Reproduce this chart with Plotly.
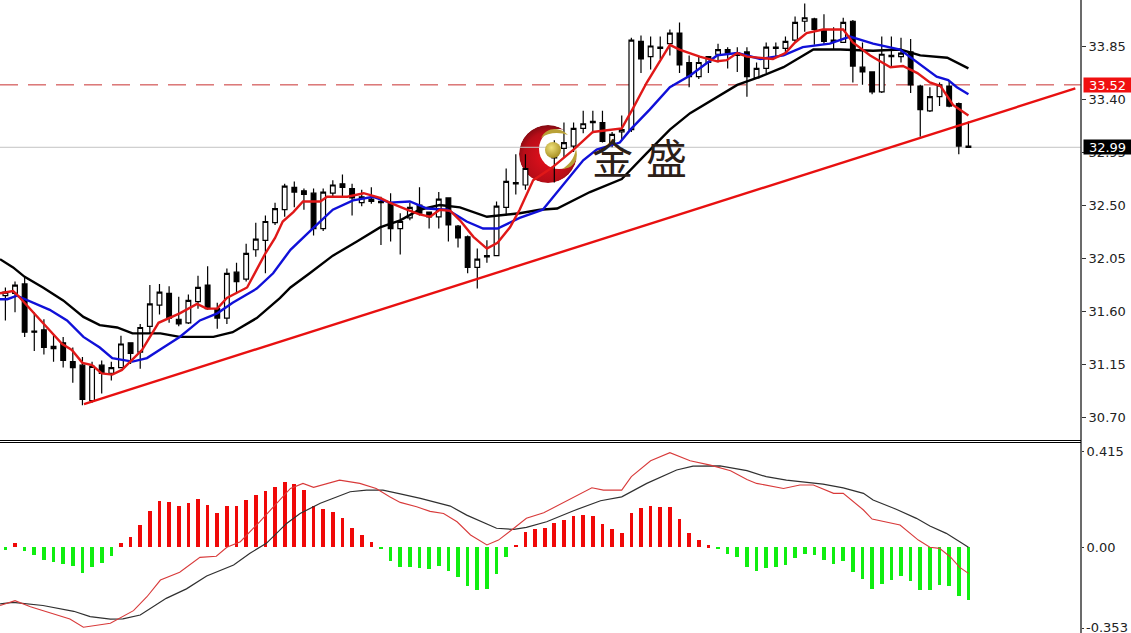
import base64
import plotly.graph_objects as go

# ---------- price panel data ----------
# Candles 55 and 56 are hidden behind the logo in the reference, so they stay empty.
opens = [31.73,31.75,31.83,31.43,31.44,31.28,31.33,31.17,31.14,30.84,31.14,31.07,31.12,31.33,31.25,31.47,31.65,31.75,31.53,31.50,
         31.68,31.82,31.62,31.54,31.93,31.87,32.12,32.20,32.35,32.46,32.65,32.62,32.60,32.30,32.60,32.68,32.64,32.52,32.55,32.53,
         32.52,32.30,32.39,32.50,32.44,32.40,32.56,32.32,32.23,31.97,32.06,32.07,32.48,32.68,32.67,None,None,32.92,32.98,33.00,
         33.15,33.20,33.20,33.03,33.12,33.14,33.89,33.76,33.83,33.87,33.96,33.71,33.59,33.71,33.78,33.82,33.79,33.80,33.58,33.66,
         33.83,33.83,33.90,34.06,34.08,33.99,33.89,33.88,34.06,33.67,33.63,33.46,33.76,33.76,33.80,33.51,33.30,33.42,33.51,33.36,33.00]
highs = [31.80,31.85,31.89,31.59,31.53,31.40,31.38,31.29,31.21,31.17,31.18,31.17,31.39,31.33,31.49,31.82,31.83,31.81,31.72,31.74,
         31.90,31.98,31.67,31.96,32.01,32.17,32.35,32.41,32.52,32.68,32.70,32.64,32.64,32.64,32.71,32.76,32.68,32.63,32.65,32.57,
         32.60,32.43,32.52,32.65,32.44,32.61,32.56,32.33,32.24,32.13,32.20,32.53,32.81,32.93,32.93,None,None,33.05,33.20,33.20,
         33.30,33.30,33.30,33.12,33.26,33.92,33.94,33.93,33.93,33.99,34.05,33.77,33.76,33.76,33.87,33.84,33.84,33.84,33.71,33.88,
         33.88,33.93,34.10,34.21,34.09,34.12,34.01,34.09,34.07,33.88,33.63,33.93,33.93,33.92,33.91,33.52,33.50,33.54,33.56,33.37,33.21]
lows = [31.52,31.59,31.38,31.26,31.23,31.17,31.12,30.99,30.80,30.82,30.90,31.01,31.12,31.15,31.11,31.41,31.57,31.50,31.47,31.49,
        31.62,31.61,31.45,31.49,31.75,31.85,32.06,31.92,32.33,32.40,32.48,32.46,32.24,32.28,32.56,32.57,32.41,32.49,32.51,32.16,
        32.19,32.08,32.37,32.41,32.30,32.30,32.19,32.14,31.92,31.79,32.01,32.07,32.41,32.59,32.63,None,None,32.69,32.90,32.95,
        33.11,33.11,33.03,32.99,33.05,33.12,33.62,33.65,33.74,33.77,33.62,33.50,33.57,33.62,33.71,33.66,33.63,33.42,33.58,33.62,
        33.75,33.79,33.88,33.97,33.86,33.86,33.82,33.88,33.54,33.52,33.44,33.45,33.67,33.71,33.45,33.08,33.29,33.34,33.33,32.93,32.99]
closes = [31.76,31.82,31.42,31.42,31.29,31.30,31.18,31.12,30.85,31.13,31.07,31.12,31.32,31.24,31.46,31.66,31.76,31.54,31.49,31.69,
          31.80,31.62,31.54,31.92,31.85,32.09,32.21,32.36,32.47,32.66,32.61,32.59,32.30,32.61,32.67,32.65,32.56,32.57,32.53,32.52,
          32.30,32.36,32.48,32.43,32.40,32.55,32.33,32.22,31.97,32.04,32.07,32.49,32.70,32.69,32.81,None,None,32.90,33.03,33.15,
          33.19,33.21,33.04,33.10,33.14,33.90,33.74,33.85,33.84,33.96,33.69,33.59,33.71,33.76,33.82,33.79,33.77,33.59,33.66,33.84,
          33.84,33.89,34.05,34.09,33.99,33.89,33.90,34.05,33.68,33.63,33.46,33.78,33.77,33.79,33.52,33.31,33.42,33.52,33.34,33.00,32.99]
candle_index = list(range(len(opens)))

ma_red_x = [-.56,.8,1.2,2.9,4.6,5.9,6.9,8,9,10,11.1,12.1,13.1,14.2,15.9,18.1,19.9,20.9,22,23,25.1,27,28,28.8,29.9,30.9,32.7,33.4,35.5,37.2,
            38.9,39.9,41.7,43,44.1,45.1,46.2,47.2,48.6,50,51.1,52.4,53.4,54.8,56.8,59,61,64,65.1,66.6,69,70,72.1,73.9,74.9,76,77,78.1,79.7,81,
            82,83.2,84.9,87,88,89.8,91.9,93.2,94.7,96,97.1,98.4,100]
ma_red_y = [31.75,31.77,31.74,31.59,31.44,31.32,31.27,31.16,31.14,31.07,31.06,31.10,31.18,31.27,31.50,31.58,31.66,31.62,31.62,31.71,31.80,32.09,32.22,32.36,32.44,32.53,32.53,32.57,32.57,32.60,
            32.56,32.52,32.46,32.42,32.40,32.46,32.45,32.37,32.23,32.13,32.18,32.31,32.46,32.71,32.82,32.97,33.12,33.15,33.31,33.54,33.86,33.82,33.76,33.72,33.73,33.79,33.76,33.75,33.74,33.79,
            33.88,33.96,33.99,33.99,33.88,33.77,33.67,33.68,33.62,33.54,33.51,33.35,33.26]
ma_blue_x = [-.56,.2,1.2,2.9,4.6,6.4,8.1,9.8,11.1,13.2,14.7,16.4,18.1,20.2,22,23.6,26.1,27.8,29.6,31.9,34,36.1,38.2,39.9,42,43.8,45.9,47.9,49.6,51.1,
             53.4,55.8,60,61.4,63.8,64.9,66.9,69,71.1,73.9,76,78.4,80.8,82.8,85.6,87.7,90.1,92.9,94.7,96.7,97.9,98.8,100]
ma_blue_y = [31.70,31.70,31.73,31.67,31.61,31.52,31.38,31.29,31.20,31.17,31.20,31.29,31.38,31.52,31.58,31.67,31.79,31.92,32.12,32.30,32.46,32.54,32.57,32.52,32.53,32.47,32.46,32.36,32.30,32.30,
             32.39,32.46,32.88,32.97,33.03,33.14,33.31,33.50,33.60,33.77,33.79,33.74,33.77,33.84,33.87,33.93,33.87,33.82,33.71,33.59,33.56,33.50,33.44]
ma_black_x = [-.56,.8,2,3.9,6,8.1,9.8,11.6,13.2,16.1,18.1,21.6,23.6,26.1,28.5,29.6,31.6,34,36.5,38.9,41,43,45.1,47.2,50,52.1,53.4,55.5,57.3,60.7,
              64,66.6,69,71.1,73.9,76,78.4,80.8,83.9,86.7,90.1,92.9,95,97.8,100]
ma_black_y = [32.04,31.97,31.89,31.80,31.69,31.55,31.48,31.46,31.41,31.41,31.38,31.38,31.42,31.54,31.71,31.80,31.92,32.07,32.19,32.31,32.37,32.46,32.50,32.48,32.40,32.42,32.43,32.46,32.47,32.61,
              32.72,32.94,33.14,33.28,33.42,33.52,33.59,33.67,33.82,33.82,33.81,33.82,33.77,33.75,33.66]
trend_x = [8.16, 111.1]
trend_y = [30.81, 33.49]
level_red = 33.52
level_last = 32.99
price_ticks = [33.85, 33.40, 32.95, 32.50, 32.05, 31.60, 31.15, 30.70]

# ---------- MACD panel data ----------
hist = [-.012,.017,-.016,-.035,-.056,-.063,-.073,-.082,-.114,-.085,-.068,-.039,.017,.042,.094,.154,.200,.193,.176,.189,
        .206,.180,.145,.176,.176,.202,.223,.243,.261,.281,.274,.248,.176,.163,.150,.124,.081,.050,.022,-.006,
        -.059,-.085,-.085,-.089,-.096,-.081,-.102,-.128,-.168,-.186,-.181,-.118,-.042,.009,.065,.078,.082,.104,.117,.134,
        .137,.132,.099,.078,.060,.145,.167,.179,.171,.171,.120,.059,.030,.007,-.006,-.030,-.043,-.085,-.102,-.089,
        -.086,-.076,-.046,-.030,-.035,-.055,-.072,-.059,-.107,-.140,-.181,-.161,-.144,-.124,-.148,-.186,-.186,-.166,-.170,-.212,-.229]
sig_x = [-.55,.8,3.9,7.1,8.8,10.9,12.2,14,16.7,18.8,20.9,23.7,25.4,27.1,29.2,30.6,32.7,35.8,37.5,39.2,41,43.1,46.2,47.9,51,52.8,54.1,56.2,59,61.8,
         64,66.6,69.7,71.4,74.2,75.3,77,79,81.1,84.9,87,89.1,90.1,92.5,94.6,96,97.7,99.1,100]
sig_y = [-.246,-.239,-.253,-.278,-.301,-.312,-.311,-.294,-.222,-.181,-.125,-.078,-.027,.016,.102,.145,.189,.239,.246,.246,.230,.210,.177,.138,.081,.076,.085,.109,.157,.200,
         .217,.275,.333,.350,.351,.344,.330,.304,.289,.272,.256,.232,.203,.163,.124,.091,.059,.023,-.001]
macd_x = [-.55,1,2.6,4.6,6.7,8.1,10.9,13.3,14.7,16.1,18.1,20.2,21.9,23,24.4,26.4,28.2,29.6,30.9,32,34.7,36.8,38.5,39.9,41,42.7,44.1,45.5,46.9,48.3,
          50,51.2,52.8,54.1,55.9,58.3,60.9,62.1,64,65,67,69,71.1,73.2,75.3,77,78,80.8,82.5,83.9,86,87,89.1,90,92.9,94.8,96,97,98.1,99.1,100]
macd_y = [-.253,-.232,-.258,-.284,-.311,-.347,-.330,-.275,-.215,-.143,-.109,-.045,-.040,-.001,.023,.109,.189,.253,.275,.258,.289,.275,.253,.217,.193,.174,.154,.145,.109,.052,
          .009,.030,.081,.124,.148,.199,.256,.246,.246,.304,.373,.408,.373,.354,.330,.292,.275,.253,.268,.268,.232,.232,.160,.121,.095,.030,-.001,-.006,-.042,-.088,-.114]
macd_ticks = [0.415, 0.0, -0.353]
macd_tick_text = ["0.415", "0.00", ""]
macd_low_label = "-0.353"

W, H = 1131, 633
AX = 1081 / W
FONT = "DejaVu Sans"
fig = go.Figure()

fig.add_trace(go.Candlestick(
    x=candle_index, open=opens, high=highs, low=lows, close=closes, xaxis="x", yaxis="y",
    increasing=dict(line=dict(color="#000000", width=1.2), fillcolor="#ffffff"),
    decreasing=dict(line=dict(color="#000000", width=1.2), fillcolor="#000000"),
    whiskerwidth=0, showlegend=False))
for xs, ys, col in [(ma_black_x, ma_black_y, "#000000"), (ma_blue_x, ma_blue_y, "#1010d8"), (ma_red_x, ma_red_y, "#e01818")]:
    fig.add_trace(go.Scatter(x=xs, y=ys, mode="lines", line=dict(color=col, width=2.4), xaxis="x", yaxis="y", showlegend=False))
fig.add_trace(go.Scatter(x=trend_x, y=trend_y, mode="lines", line=dict(color="#e81010", width=2.4), xaxis="x", yaxis="y", showlegend=False))

fig.add_trace(go.Bar(x=candle_index, y=hist, width=0.38,
                     marker=dict(color=["#f00808" if v > 0 else "#10ee10" for v in hist], line_width=0),
                     xaxis="x2", yaxis="y2", showlegend=False))
fig.add_trace(go.Scatter(x=sig_x, y=sig_y, mode="lines", line=dict(color="#303030", width=1.2), xaxis="x2", yaxis="y2", showlegend=False))
fig.add_trace(go.Scatter(x=macd_x, y=macd_y, mode="lines", line=dict(color="#d83a3a", width=1.1), xaxis="x2", yaxis="y2", showlegend=False))

logo_ring = """<svg xmlns='http://www.w3.org/2000/svg' width='60' height='60' viewBox='0 0 60 60'>
<defs>
<radialGradient id='r' cx='0.5' cy='0.55' r='0.6'><stop offset='0' stop-color='#e8101c'/><stop offset='0.7' stop-color='#b80d18'/><stop offset='1' stop-color='#6e0a10'/></radialGradient>
<mask id='m'><rect width='60' height='60' fill='black'/><circle cx='30' cy='30' r='29' fill='white'/><circle cx='41' cy='25' r='20' fill='black'/></mask>
</defs>
<circle cx='30' cy='30' r='29' fill='url(#r)' mask='url(#m)'/>
</svg>"""
logo_gold = """<svg xmlns='http://www.w3.org/2000/svg' width='60' height='60' viewBox='0 0 60 60'>
<defs>
<radialGradient id='g' cx='0.4' cy='0.35' r='0.7'><stop offset='0' stop-color='#efe07a'/><stop offset='1' stop-color='#a48c1e'/></radialGradient>
</defs>
<path d='M23 14 C28 3 42 2 50 11 C42 8 30 8 23 14 Z' fill='#b9a136'/>
<path d='M44 45 C51 41 56 35 58 25 C61 35 56 45 44 45 Z' fill='#b9a136'/>
<circle cx='35' cy='26' r='8' fill='url(#g)'/>
</svg>"""


def uri(svg):
    return "data:image/svg+xml;base64," + base64.b64encode(svg.encode()).decode()


def py(px):
    return 1 - px / H


logo_common = dict(xref="paper", yref="paper", x=518 / W, y=py(124), sizex=60 / W, sizey=60 / H,
                   xanchor="left", yanchor="top", sizing="stretch")

fig.update_layout(
    width=W, height=H, autosize=False, margin=dict(l=0, r=0, t=0, b=0),
    paper_bgcolor="#ffffff", plot_bgcolor="#ffffff", bargap=0,
    xaxis=dict(domain=[0, AX], range=[-0.56, 111.69], rangeslider=dict(visible=False), visible=False, anchor="y"),
    xaxis2=dict(domain=[0, AX], range=[-0.56, 111.69], visible=False, anchor="y2"),
    yaxis=dict(domain=[py(439), 1], range=[30.5132, 34.2406], side="right", anchor="x",
               tickmode="array", tickvals=price_ticks, ticktext=[f"{v:.2f}" for v in price_ticks],
               ticks="outside", ticklen=4, tickcolor="#333333", showgrid=False, zeroline=False,
               tickfont=dict(family=FONT, size=13, color="#222222")),
    yaxis2=dict(domain=[0, py(442)], range=[-0.3718, 0.454], side="right", anchor="x2",
                tickmode="array", tickvals=macd_ticks, ticktext=macd_tick_text,
                ticks="outside", ticklen=2, tickcolor="#333333", showgrid=False, zeroline=False,
                tickfont=dict(family=FONT, size=13, color="#222222")),
    images=[dict(source=uri(logo_ring), layer="below", **logo_common),
            dict(source=uri(logo_gold), layer="above", **logo_common)],
    shapes=[
        dict(type="line", xref="paper", yref="y", x0=0, x1=AX, y0=level_last, y1=level_last,
             line=dict(color="#c4c4c4", width=1), layer="below"),
        dict(type="line", xref="paper", yref="y", x0=0, x1=AX, y0=level_red, y1=level_red,
             line=dict(color="#c83030", width=1, dash="18px,10px"), layer="below"),
        dict(type="line", xref="paper", yref="paper", x0=AX, x1=AX, y0=0, y1=1, line=dict(color="#3a3a3a", width=1.5)),
        dict(type="line", xref="paper", yref="paper", x0=0, x1=AX, y0=py(440.5), y1=py(440.5), line=dict(color="#000000", width=1)),
        dict(type="line", xref="paper", yref="paper", x0=0, x1=AX, y0=py(442.5), y1=py(442.5), line=dict(color="#000000", width=1)),
    ],
    annotations=[
        dict(text=f"{level_red:.2f}", xref="paper", yref="y", x=1083 / W, y=level_red, xanchor="left", yanchor="middle",
             showarrow=False, bgcolor="#f01010", width=47, height=14, borderpad=0,
             font=dict(family=FONT, size=13, color="#ffffff")),
        dict(text=f"{level_last:.2f}", xref="paper", yref="y", x=1083 / W, y=level_last, xanchor="left", yanchor="middle",
             showarrow=False, bgcolor="#000000", width=47, height=14, borderpad=0,
             font=dict(family=FONT, size=13, color="#ffffff")),
        dict(text=macd_low_label, xref="paper", yref="paper", x=1085 / W, y=py(627), xanchor="left", yanchor="middle",
             showarrow=False, borderpad=0, font=dict(family=FONT, size=13, color="#222222")),
        dict(text="金", xref="paper", yref="paper", x=612 / W, y=py(156), xanchor="center", yanchor="middle",
             showarrow=False, font=dict(family="Noto Sans CJK SC", size=41, color="#2c2018")),
        dict(text="盛", xref="paper", yref="paper", x=666 / W, y=py(156), xanchor="center", yanchor="middle",
             showarrow=False, font=dict(family="Noto Sans CJK SC", size=41, color="#2c2018")),
    ],
)
fig.write_html("out.html", config=dict(displayModeBar=False),
               post_script="document.body.style.margin='0';")
